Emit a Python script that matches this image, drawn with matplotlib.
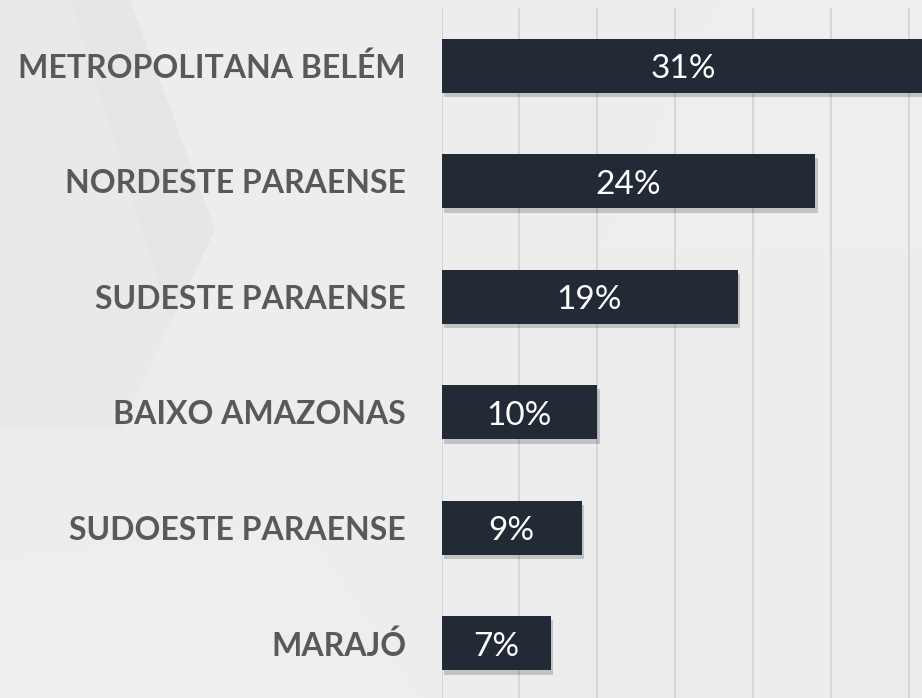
import matplotlib
matplotlib.use("Agg")
import matplotlib.pyplot as plt
import matplotlib.patheffects as pe
from matplotlib.patches import Polygon

categories = ["METROPOLITANA BELÉM", "NORDESTE PARAENSE", "SUDESTE PARAENSE",
              "BAIXO AMAZONAS", "SUDOESTE PARAENSE", "MARAJÓ"]
values = [31, 24, 19, 10, 9, 7]
value_labels = ["31%", "24%", "19%", "10%", "9%", "7%"]
grid_ticks = [0, 5, 10, 15, 20, 25, 30, 35]

W, H = 922, 698
fig = plt.figure(figsize=(W / 100, H / 100), dpi=100)
fig.patch.set_facecolor("#ededed")

# subtle background shapes
bg = fig.add_axes([0, 0, 1, 1], zorder=-10)
bg.set_xlim(0, W); bg.set_ylim(H, 0); bg.axis("off")
bg.add_patch(Polygon([[0, 0], [130, 0], [215, 230], [120, 430], [0, 430]],
                     closed=True, facecolor="#e9e9e9", edgecolor="none"))
bg.add_patch(Polygon([[70, 0], [130, 0], [215, 230], [170, 320]],
                     closed=True, facecolor="#e4e4e4", edgecolor="none", alpha=0.5))
bg.add_patch(Polygon([[720, 0], [922, 0], [922, 250], [600, 250]],
                     closed=True, facecolor="#f0f0f0", edgecolor="none", alpha=0.6))
bg.add_patch(Polygon([[0, 560], [300, 520], [420, 698], [0, 698]],
                     closed=True, facecolor="#f0f0f0", edgecolor="none", alpha=0.6))

px_per = 15.58
x0 = 441.5
xmax = 35
left = x0 / W
width = xmax * px_per / W
top_px, bot_px = 8, 701
ax = fig.add_axes([left, (H - bot_px) / H, width, (bot_px - top_px) / H])
ax.set_facecolor("none")

y = list(range(len(categories)))
bars = ax.barh(y, values, height=0.47, color="#222a35", zorder=3)
for b in bars:
    b.set_path_effects([pe.SimplePatchShadow(offset=(2, -3), shadow_rgbFace="black", alpha=0.18),
                        pe.Normal()])

for yi, v, lab in zip(y, values, value_labels):
    ax.annotate(lab, (v / 2, yi), xytext=(0, -9.0), textcoords="offset points",
                ha="center", va="baseline", color="white",
                fontsize=24, family="Lato", zorder=4)

ax.set_xlim(0, xmax)
ax.set_ylim(len(categories) - 0.5, -0.5)
ax.set_xticks(grid_ticks)
ax.xaxis.grid(True, color="#d6d6d6", linewidth=1.5, zorder=0)
ax.tick_params(axis="x", length=0, labelbottom=False)
ax.set_yticks(y)
ax.set_yticklabels(categories, fontsize=23, fontweight="bold", family="Lato", color="#595959")
ax.tick_params(axis="y", length=0, pad=25.5)
for s in ax.spines.values():
    s.set_visible(False)

fig.savefig("out.png", dpi=100)
